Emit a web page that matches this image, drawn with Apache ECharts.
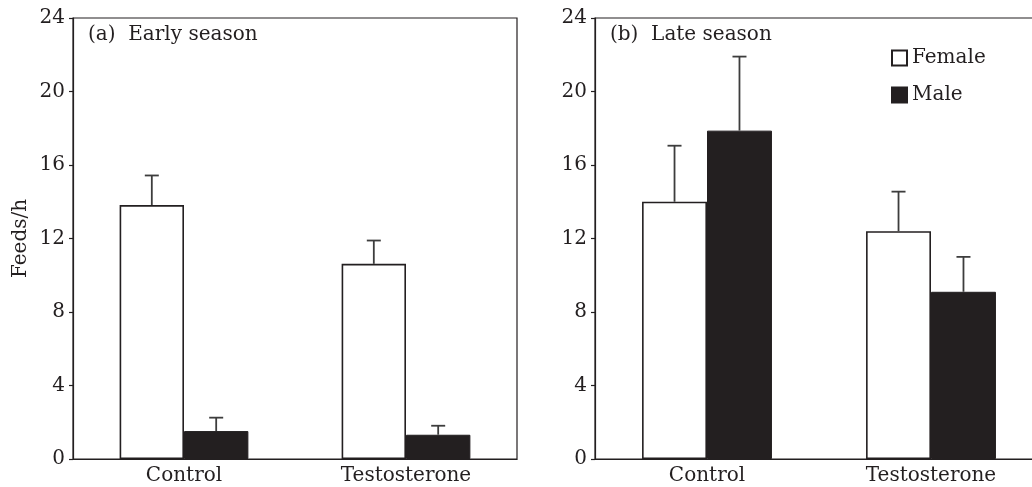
<!DOCTYPE html>
<html>
<head>
<meta charset="utf-8">
<script src="https://cdn.jsdelivr.net/npm/echarts@6/dist/echarts.min.js"></script>
<style>
  html, body { margin: 0; padding: 0; background: #fff; overflow: hidden; }
  #main { width: 1060px; height: 487px; }
</style>
</head>
<body>
<div id="main"></div>
<script>
const categories = ['Control', 'Testosterone'];
const yTicks = [0, 4, 8, 12, 16, 20, 24];

// (a) early season: bar means and top of error bars
const earlyFemale = [13.82, 10.62];
const earlyFemaleErr = [15.43, 11.89];
const earlyMale = [1.52, 1.32];
const earlyMaleErr = [2.25, 1.81];

// (b) late season
const lateFemale = [14.0, 12.4];
const lateFemaleErr = [17.05, 14.55];
const lateMale = [17.87, 9.1];
const lateMaleErr = [21.9, 11.0];

const FONT = 'DejaVu Serif';
const INK = '#231f20';
const GAP = 0.42;

let chart = echarts.init(document.getElementById('main'));

function errData(means, tops, sex) {
  return means.map(function (m, i) { return [i, m, tops[i], sex]; });
}

function renderErr(params, api) {
  const cat = api.value(0);
  const base = api.coord([cat, api.value(1)]);
  const top = api.coord([cat, api.value(2)]);
  const band = api.size([1, 0])[0];
  const bw = band * (1 - GAP) / 2;
  const x = base[0] + (api.value(3) === 0 ? -0.5 : 0.5) * bw;
  const st = { stroke: '#3d3d3d', lineWidth: 1.8 };
  return {
    type: 'group',
    children: [
      { type: 'line', shape: { x1: x, y1: base[1], x2: x, y2: top[1] }, style: st },
      { type: 'line', shape: { x1: x - 7, y1: top[1], x2: x + 7, y2: top[1] }, style: st }
    ]
  };
}

function xAxis(idx) {
  return {
    type: 'category',
    gridIndex: idx,
    data: categories,
    axisLine: { lineStyle: { color: INK, width: 1.2 } },
    axisTick: { inside: true, length: 7, lineStyle: { color: INK, width: 1.2 } },
    axisLabel: { fontFamily: FONT, fontSize: 20, color: INK, margin: 7 }
  };
}

function yAxis(idx, name) {
  return {
    type: 'value',
    gridIndex: idx,
    min: 0,
    max: 24,
    interval: 4,
    name: name,
    nameLocation: 'middle',
    nameGap: 42,
    nameTextStyle: { fontFamily: FONT, fontSize: 20, color: INK },
    splitLine: { show: false },
    axisLine: { show: true, lineStyle: { color: INK, width: 1.2 } },
    axisTick: { show: true, length: 4, lineStyle: { color: INK, width: 1.2 } },
    axisLabel: {
      fontFamily: FONT, fontSize: 20, color: INK, margin: 8,
      formatter: function (v) { return yTicks.indexOf(v) >= 0 ? String(v) : ''; }
    }
  };
}

const femaleStyle = { color: '#fff', borderColor: INK, borderWidth: 1.6 };
const maleStyle = { color: INK, borderColor: INK, borderWidth: 1 };

function bars(idx, fem, mal) {
  return [
    {
      name: 'Female', type: 'bar', xAxisIndex: idx, yAxisIndex: idx,
      data: fem, itemStyle: femaleStyle, barGap: '0%', barCategoryGap: '42%'
    },
    {
      name: 'Male', type: 'bar', xAxisIndex: idx, yAxisIndex: idx,
      data: mal, itemStyle: maleStyle, barGap: '0%', barCategoryGap: '42%'
    }
  ];
}

function errs(idx, fem, femTop, mal, malTop) {
  return {
    type: 'custom', xAxisIndex: idx, yAxisIndex: idx, z: 3,
    renderItem: renderErr,
    data: errData(fem, femTop, 0).concat(errData(mal, malTop, 1))
  };
}

let option = {
  animation: false,
  backgroundColor: '#fff',
  title: [
    {
      text: '(a)  Early season', left: 88, top: 25, padding: 0,
      textStyle: { fontFamily: FONT, fontSize: 20, fontWeight: 'normal', color: INK }
    },
    {
      text: '(b)  Late season', left: 610, top: 25, padding: 0,
      textStyle: { fontFamily: FONT, fontSize: 20, fontWeight: 'normal', color: INK }
    }
  ],
  legend: {
    data: ['Female', 'Male'],
    orient: 'vertical',
    left: 891,
    top: 48,
    padding: 0,
    itemWidth: 15,
    itemHeight: 15,
    itemGap: 17,
    icon: 'rect',
    textStyle: { fontFamily: FONT, fontSize: 20, color: INK, padding: [0, 0, 0, 0] }
  },
  grid: [
    { left: 73, top: 18, width: 444, height: 441, show: true, borderColor: INK, borderWidth: 1.2 },
    { left: 595, top: 18, width: 448, height: 441, show: true, borderColor: INK, borderWidth: 1.2 }
  ],
  xAxis: [xAxis(0), xAxis(1)],
  yAxis: [yAxis(0, 'Feeds/h'), yAxis(1, '')],
  series: [].concat(
    bars(0, earlyFemale, earlyMale),
    bars(1, lateFemale, lateMale),
    [errs(0, earlyFemale, earlyFemaleErr, earlyMale, earlyMaleErr),
     errs(1, lateFemale, lateFemaleErr, lateMale, lateMaleErr)]
  )
};

chart.setOption(option);
</script>
</body>
</html>
